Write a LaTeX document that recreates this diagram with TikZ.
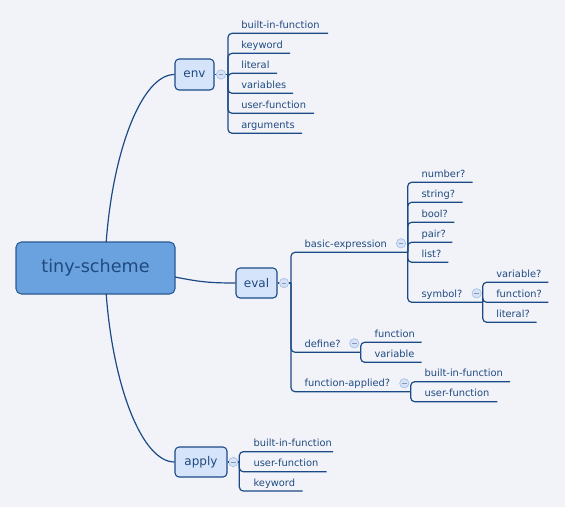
\documentclass[tikz,border=0pt]{standalone}
\usepackage{fontspec}
\setmainfont{DejaVu Sans}
\definecolor{bg}{HTML}{F2F3F9}
\definecolor{ln}{HTML}{1B4A86}
\definecolor{txt}{HTML}{1F4A80}
\definecolor{rootfill}{HTML}{6AA2DF}
\definecolor{rootdraw}{HTML}{2B5A94}
\definecolor{topfill}{HTML}{D5E3FB}
\definecolor{cfill}{HTML}{D6E2F6}
\definecolor{cdraw}{HTML}{A7BFE6}
\tikzset{
  conn/.style={draw=ln, line width=0.9pt, rounded corners=3pt},
  leaf/.style={anchor=base west, inner sep=0pt, text=txt, font=\fontsize{7.4}{9}\selectfont},
  roottopic/.style={draw=rootdraw, fill=rootfill, line width=0.8pt, rounded corners=4pt, text=txt, font=\fontsize{13.2}{15}\selectfont},
  maintopic/.style={draw=ln, fill=topfill, line width=0.8pt, rounded corners=3pt, text=txt, font=\fontsize{9}{11}\selectfont},
  coll/.style={circle, draw=cdraw, fill=cfill, minimum size=7pt, inner sep=0pt, line width=0.5pt,
    path picture={\draw[cdraw!80!black, line width=0.5pt] ([xshift=-1.8pt]path picture bounding box.center) -- ([xshift=1.8pt]path picture bounding box.center);}}
}
\begin{document}
\begin{tikzpicture}[x=0.75pt,y=-0.75pt]
\fill[bg] (0,0) rectangle (565,507);
\path[use as bounding box] (0,0) rectangle (565,507);

% main topics
\node[roottopic, minimum width=119.25pt, minimum height=39pt] (root) at (95.5,268) {tiny-scheme};
\node[maintopic, minimum width=29.25pt, minimum height=23.25pt] (env) at (194.5,74.5) {env};
\node[maintopic, minimum width=30.75pt, minimum height=22.5pt] (eval) at (256.5,283) {eval};
\node[maintopic, minimum width=39pt, minimum height=22.5pt] (apply) at (201,462) {apply};

\coordinate (rt) at (106.2,242);
\coordinate (rb) at (106.2,294);
\coordinate (rr) at (175,277);
\draw[conn] (rt) .. controls (113,150) and (142,74.5) .. (env.west);
\draw[conn] (rb) .. controls (113,386) and (142,462) .. (apply.west);
\draw[conn] (rr) .. controls (200,282) and (210,283) .. (eval.west);

% env
\node[coll] (envc) at (221,74.5) {};
\coordinate (envj) at (228,74.5);
\draw[conn] (env.east) -- (envc.west);
\draw[conn] (envc.east) -- (envj);
\foreach \n/\t/\y/\e in {e1/built-in-function/33.3/328, e2/keyword/53.3/290, e3/literal/73.3/277, e4/variables/93.3/293, e5/user-function/113.3/314, e6/arguments/133.3/302}{
  \node[leaf] (\n) at (241,\y-5) {\t};
  \coordinate (\n e) at (\e,\y);
  \draw[conn] (envj) |- (\n e);
}

% apply
\node[coll] (applyc) at (233.3,462) {};
\coordinate (applyj) at (239.3,462);
\draw[conn] (apply.east) -- (applyc.west);
\draw[conn] (applyc.east) -- (applyj);
\foreach \n/\t/\y/\e in {a1/built-in-function/451.7/333, a2/user-function/471.7/326.7, a3/keyword/491/302.7}{
  \node[leaf] (\n) at (253.3,\y-5) {\t};
  \coordinate (\n e) at (\e,\y);
  \draw[conn] (applyj) |- (\n e);
}

% eval
\node[coll] (evalc) at (284,283) {};
\coordinate (evalj) at (291,283);
\draw[conn] (eval.east) -- (evalc.west);
\draw[conn] (evalc.east) -- (evalj);

\node[leaf] (basic) at (304.3,247.3) {basic-expression};
\node[leaf] (define) at (304.3,347.3) {define?};
\node[leaf] (fapp) at (304.3,386.7) {function-applied?};
\coordinate (basice) at (407.7,252.3);
\coordinate (definee) at (360.7,352.3);
\coordinate (fappe) at (410.7,391.7);
\draw[conn] (evalj) |- (basice);
\draw[conn] (evalj) |- (definee);
\draw[conn] (evalj) |- (fappe);
\node[coll] (basicc) at (401,243.3) {};
\node[coll] (definec) at (354.3,343.3) {};
\node[coll] (fappc) at (404.3,383.3) {};

% basic-expression children
\foreach \n/\t/\y/\e in {b1/number?/182.3/472.7, b2/string?/202.3/462.7, b3/bool?/222.3/454.3, b4/pair?/242.3/452.3, b5/list?/262.3/448.3}{
  \node[leaf] (\n) at (421.3,\y-5) {\t};
  \coordinate (\n e) at (\e,\y);
  \draw[conn] (basice) |- (\n e);
}
\node[leaf] (symbol) at (421.3,297.3) {symbol?};
\coordinate (symbole) at (482.7,302.3);
\draw[conn] (basice) |- (symbole);
\node[coll] (symbolc) at (476.7,293.3) {};
\foreach \n/\t/\y/\e in {s1/variable?/282.3/548.3, s2/function?/302.3/548.3, s3/literal?/322.3/536.7}{
  \node[leaf] (\n) at (496,\y-5) {\t};
  \coordinate (\n e) at (\e,\y);
  \draw[conn] (symbole) |- (\n e);
}

% define children
\foreach \n/\t/\y/\e in {d1/function/342.3/421.7, d2/variable/362.3/421.7}{
  \node[leaf] (\n) at (374.3,\y-5) {\t};
  \coordinate (\n e) at (\e,\y);
  \draw[conn] (definee) |- (\n e);
}

% function-applied children
\foreach \n/\t/\y/\e in {f1/built-in-function/381.7/510, f2/user-function/401.7/497.3}{
  \node[leaf] (\n) at (424.3,\y-5) {\t};
  \coordinate (\n e) at (\e,\y);
  \draw[conn] (fappe) |- (\n e);
}
\end{tikzpicture}
\end{document}
